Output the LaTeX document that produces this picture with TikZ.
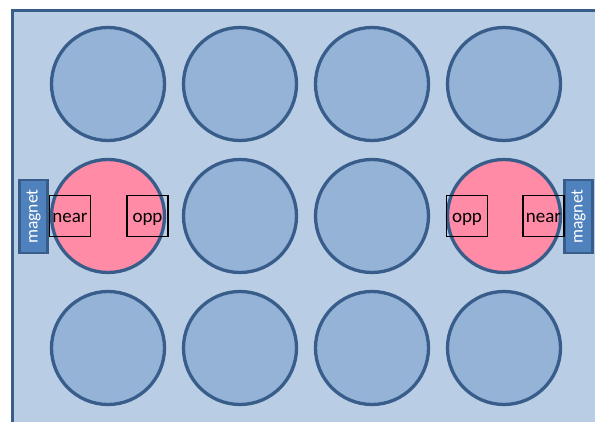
\documentclass[tikz,border=0pt]{standalone}
\usepackage{fontspec}
\setmainfont{Carlito}
\definecolor{plateFill}{HTML}{B9CDE5}
\definecolor{wellFill}{HTML}{95B3D7}
\definecolor{wellLine}{HTML}{385D8A}
\definecolor{hitFill}{HTML}{FF8BA6}
\definecolor{magFill}{HTML}{4F81BD}
\tikzset{
  well/.style={circle, draw=wellLine, line width=3.3pt, fill=wellFill, minimum size=113pt, inner sep=0pt},
  hitwell/.style={well, fill=hitFill},
  probe/.style={draw=black, line width=1.6pt, minimum width=41pt, minimum height=41pt, inner sep=0pt, text height=14pt, text depth=0pt, font=\fontsize{19}{21}\selectfont},
  magnetbar/.style={draw=wellLine, line width=2.5pt, fill=magFill, minimum width=73pt, minimum height=28pt, inner sep=0pt, rotate=90, text=white, font=\fontsize{17.5}{19}\selectfont}
}
\begin{document}
\begin{tikzpicture}[x=1pt, y=-1pt]
\useasboundingbox (0,0) rectangle (595,422);
% plate
\fill[white] (0,0) rectangle (595,422);
\fill[plateFill] (12,10.5) rectangle (597,424);
\draw[wellLine, line width=3pt] (12,424) -- (12,10.5) -- (597,10.5);
% wells
\foreach \r/\y in {1/84, 3/348}
  \foreach \c/\x in {1/108, 2/240, 3/372, 4/504}
    \node[well] (w\r\c) at (\x,\y) {};
\node[hitwell] (w21) at (108,216) {};
\node[well] (w22) at (240,216) {};
\node[well] (w23) at (372,216) {};
\node[hitwell] (w24) at (504,216) {};
% magnets
\node[magnetbar] (magL) at (33.5,216.5) {magnet};
\node[magnetbar] (magR) at (578.5,216.5) {magnet};
% probe positions
\node[probe] (nearL) at (70,216) {near};
\node[probe] (oppL) at (147.5,216) {opp};
\node[probe] (oppR) at (467,216) {opp};
\node[probe] (nearR) at (543.5,216) {near};
\end{tikzpicture}
\end{document}
